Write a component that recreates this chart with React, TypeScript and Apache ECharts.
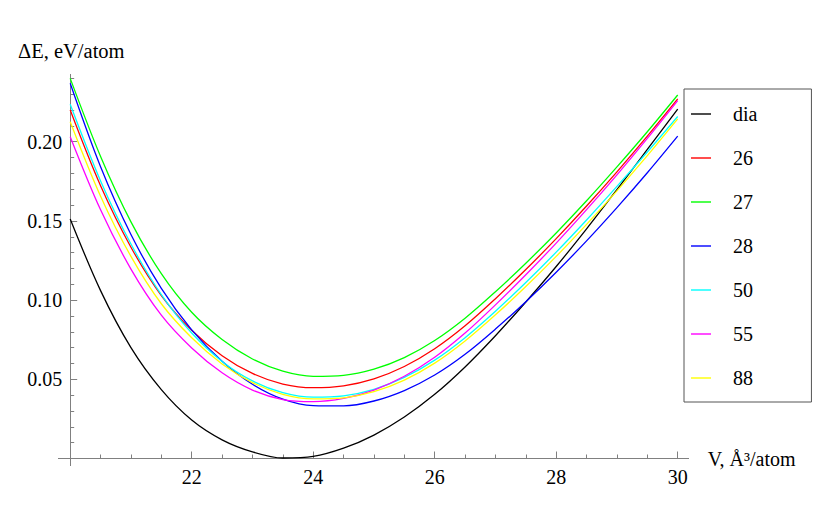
import React, { useEffect, useRef } from "react";
import * as echarts from "echarts";

const volumes = [20, 20.5, 21, 21.5, 22, 22.5, 23, 23.5, 24, 24.5, 25, 25.5, 26, 26.5, 27, 27.5, 28, 28.5, 29, 29.5, 30];

const dia = [0.1512, 0.106, 0.070, 0.0435, 0.0243, 0.0118, 0.0042, 0.0003, 0.0013, 0.0065, 0.0148, 0.0262, 0.0405, 0.0578, 0.0775, 0.0988, 0.1212, 0.1450, 0.1698, 0.1951, 0.2206];
const s26 = [0.220, 0.1722, 0.1334, 0.1029, 0.0810, 0.0649, 0.0537, 0.0470, 0.0447, 0.0459, 0.0503, 0.0581, 0.0693, 0.0838, 0.1009, 0.1193, 0.1388, 0.1594, 0.1810, 0.2035, 0.2270];
const s27 = [0.240, 0.1907, 0.1494, 0.1167, 0.0923, 0.0751, 0.0628, 0.0551, 0.0519, 0.0525, 0.0564, 0.0637, 0.0745, 0.0886, 0.1053, 0.1233, 0.1424, 0.1627, 0.1841, 0.2063, 0.2295];
const s28 = [0.2369, 0.1842, 0.1414, 0.1074, 0.0812, 0.0614, 0.0469, 0.0375, 0.0334, 0.0332, 0.0363, 0.0429, 0.0527, 0.0658, 0.0817, 0.0990, 0.1176, 0.1374, 0.1584, 0.1804, 0.2035];
const s50 = [0.2236, 0.1752, 0.1354, 0.1034, 0.0792, 0.0613, 0.0490, 0.0416, 0.0387, 0.0396, 0.0437, 0.0512, 0.0621, 0.0763, 0.0930, 0.1111, 0.1303, 0.1506, 0.1718, 0.1935, 0.2159];
const s55 = [0.2032, 0.1570, 0.1196, 0.0905, 0.0698, 0.0541, 0.0432, 0.0372, 0.0359, 0.0379, 0.0432, 0.0519, 0.0639, 0.0792, 0.0970, 0.1160, 0.1360, 0.1571, 0.1791, 0.2021, 0.2260];
const s88 = [0.2126, 0.1656, 0.1276, 0.0977, 0.0762, 0.0597, 0.0479, 0.0405, 0.0376, 0.0383, 0.0422, 0.0495, 0.0602, 0.0742, 0.0907, 0.1086, 0.1276, 0.1478, 0.1690, 0.1912, 0.2144];

const seriesNames = ["dia", "26", "27", "28", "50", "55", "88"];
const seriesValues = [dia, s26, s27, s28, s50, s55, s88];
const seriesColors = ["#000000", "#ff0000", "#00ff00", "#0000ff", "#00ffff", "#ff00ff", "#ffff00"];

const yMajorTicks = [0.05, 0.1, 0.15, 0.2];
const yMinorTicks = [0.01, 0.02, 0.03, 0.04, 0.06, 0.07, 0.08, 0.09, 0.11, 0.12, 0.13, 0.14, 0.16, 0.17, 0.18, 0.19, 0.21, 0.22, 0.23, 0.24];

const FONT = "'Liberation Serif', 'Times New Roman', serif";
const AXIS_COLOR = "#808080";

export default function App() {
  const ref = useRef<HTMLDivElement>(null);
  useEffect(() => {
    if (!ref.current) return;
    const chart = echarts.init(ref.current, undefined, { renderer: "svg" });
    const option: any = {
      animation: false,
      backgroundColor: "#ffffff",
      title: {
        text: "ΔE, eV/atom",
        left: 18,
        top: 40,
        padding: 0,
        textStyle: { fontFamily: FONT, fontSize: 20.5, fontWeight: "normal", color: "#000" },
      },
      grid: { left: 70.2, right: 152.3, top: 74.4, bottom: 46.5, containLabel: false },
      xAxis: {
        type: "value",
        min: 20,
        max: 30,
        interval: 2,
        name: "V, Å³/atom",
        nameLocation: "end",
        nameGap: 30,
        nameTextStyle: { fontFamily: FONT, fontSize: 20, color: "#000", verticalAlign: "middle", align: "left" },
        axisLine: { show: true, onZero: false, lineStyle: { color: AXIS_COLOR, width: 1 } },
        axisTick: { show: true, inside: true, length: 7, lineStyle: { color: AXIS_COLOR } },
        minorTick: { show: true, splitNumber: 4, length: 4, lineStyle: { color: AXIS_COLOR } },
        axisLabel: { showMinLabel: false, fontFamily: FONT, fontSize: 20, color: "#000", margin: 8 },
        splitLine: { show: false },
        minorSplitLine: { show: false },
      },
      yAxis: [
        {
          type: "value",
          position: "left",
          min: 0,
          max: 0.2425,
          interval: 0.05,
          axisLine: { show: true, lineStyle: { color: AXIS_COLOR, width: 1 } },
          axisTick: { show: true, inside: true, length: 7, customValues: yMajorTicks, lineStyle: { color: AXIS_COLOR } },
          axisLabel: {
            customValues: yMajorTicks,
            formatter: (v: number) => v.toFixed(2),
            fontFamily: FONT,
            fontSize: 20,
            color: "#000",
            margin: 8,
          },
          splitLine: { show: false },
        },
        {
          type: "value",
          position: "left",
          offset: 0,
          min: 0,
          max: 0.2425,
          interval: 0.01,
          axisLine: { show: false },
          axisTick: { show: true, inside: true, length: 4, customValues: yMinorTicks, lineStyle: { color: AXIS_COLOR } },
          axisLabel: { show: false },
          splitLine: { show: false },
        },
      ],
      legend: {
        orient: "vertical",
        left: 684,
        top: 89,
        padding: [14, 54, 13, 7],
        icon: "rect",
        itemWidth: 20,
        itemHeight: 1.4,
        itemGap: 22,
        borderColor: "#555555",
        borderWidth: 1,
        backgroundColor: "#ffffff",
        textStyle: { fontFamily: FONT, fontSize: 20, color: "#000", lineHeight: 22, padding: [0, 0, 0, 17] },
        data: seriesNames,
      },
      graphic: [
        { type: "line", shape: { x1: 58, y1: 458.5, x2: 70.2, y2: 458.5 }, style: { stroke: AXIS_COLOR, lineWidth: 1 } },
        { type: "line", shape: { x1: 677.7, y1: 458.5, x2: 689, y2: 458.5 }, style: { stroke: AXIS_COLOR, lineWidth: 1 } },
        { type: "line", shape: { x1: 70.5, y1: 458.5, x2: 70.5, y2: 466 }, style: { stroke: AXIS_COLOR, lineWidth: 1 } },
      ],
      series: seriesNames.map((name, i) => ({
        name,
        type: "line",
        xAxisIndex: 0,
        yAxisIndex: 0,
        data: volumes.map((v, j) => [v, seriesValues[i][j]]),
        smooth: 0.33,
        symbol: "none",
        showSymbol: false,
        lineStyle: { color: seriesColors[i], width: 1.3 },
        itemStyle: { color: seriesColors[i] },
      })),
    };
    chart.setOption(option);
    return () => chart.dispose();
  }, []);
  return <div ref={ref} style={{ position: "absolute", left: 0, top: 0, width: 830, height: 505 }} />;
}
